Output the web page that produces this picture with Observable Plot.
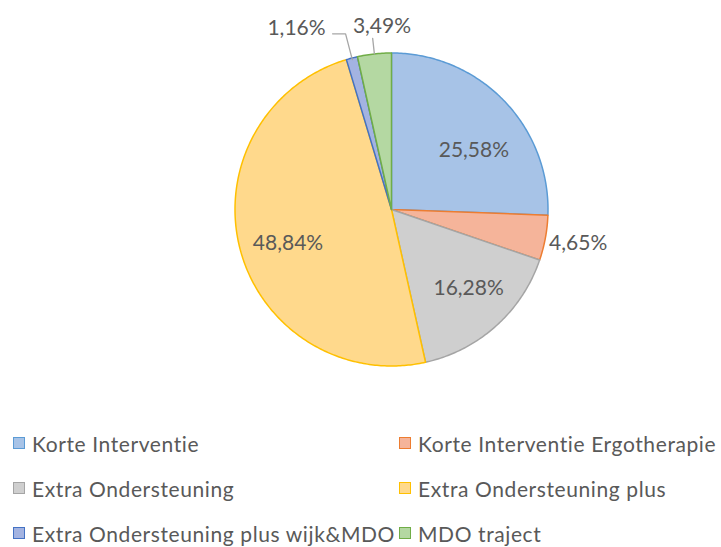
<!DOCTYPE html>
<html>
<head>
<meta charset="utf-8">
<script src="https://cdn.jsdelivr.net/npm/d3@7"></script>
<script src="https://cdn.jsdelivr.net/npm/@observablehq/plot@0.6"></script>
<style>
  body { margin: 0; background: #fff; font-family: Lato, "Open Sans", sans-serif; }
  #wrap { position: relative; width: 721px; height: 547px; }
  #legend { position: absolute; left: 13px; top: 429px; display: grid;
    grid-template-columns: 386px auto; grid-template-rows: 45px 45px 28px;
    font-size: 21px; letter-spacing: 0.6px; color: #595959; }
  .item { display: flex; align-items: center; height: 28px; white-space: nowrap; }
  .sw { width: 10px; height: 10px; margin-right: 7px; border: 1.5px solid; }
</style>
</head>
<body>
<div id="wrap"><div id="chart"></div><div id="legend"></div></div>
<script>
const categories = ["Korte Interventie", "Korte Interventie Ergotherapie", "Extra Ondersteuning",
  "Extra Ondersteuning plus", "Extra Ondersteuning plus wijk&MDO", "MDO traject"];
const counts = [22, 4, 14, 42, 1, 3];
const labels = ["25,58%", "4,65%", "16,28%", "48,84%", "1,16%", "3,49%"];
const labelMode = ["in", "out", "in", "in", "leaderLeft", "leaderUp"];
const fills = ["#A7C3E7", "#F5B49A", "#CFCFCF", "#FFD98C", "#A3B3E1", "#B4D8A2"];
const strokes = ["#5B9BD5", "#ED7D31", "#A5A5A5", "#FFC000", "#4472C4", "#70AD47"];
// small pixel nudges for label text (dx, dy)
const labelNudge = [[3.5, 17], [3.5, 0], [4, -3], [2.5, 6], [-20, -5.5], [11, 3]];

const arcs = d3.pie().sort(null).value(d => d)(counts);
const pt = (a, r) => ({x: r * Math.sin(a), y: r * Math.cos(a)});

const slices = arcs.map((a) => {
  const pts = [pt(0, 0)];
  const n = Math.max(4, Math.ceil((a.endAngle - a.startAngle) * 80));
  for (let k = 0; k <= n; k++) pts.push(pt(a.startAngle + (a.endAngle - a.startAngle) * k / n, 1));
  pts.push(pt(0, 0));
  return pts;
});

const labelRows = arcs.map((a, i) => {
  const m = (a.startAngle + a.endAngle) / 2;
  const mode = labelMode[i];
  let p, anchor = "middle";
  if (mode === "in") p = pt(m, 0.7);
  else if (mode === "out") p = pt(m, 1.19);
  else if (mode === "leaderLeft") { p = pt(m, 1.16); anchor = "end"; }
  else p = pt(m, 1.2);
  return {...p, text: labels[i], anchor, dx: labelNudge[i][0], dy: labelNudge[i][1]};
});

const leaders = [];
arcs.forEach((a, i) => {
  const m = (a.startAngle + a.endAngle) / 2;
  if (labelMode[i] === "leaderLeft") {
    const e = pt(m, 1.16);
    leaders.push([pt(m, 0.99), e, {x: e.x - 0.083, y: e.y}]);
  } else if (labelMode[i] === "leaderUp") {
    leaders.push([pt(m, 1.0), pt(m, 1.1)]);
  }
});

const R = 156.5, cx = 391, cy = 209;
const marks = [];
slices.forEach((s, i) => marks.push(Plot.line(s, {x: "x", y: "y", fill: fills[i], stroke: strokes[i], strokeWidth: 1.5, strokeLinejoin: "round"})));
leaders.forEach(l => marks.push(Plot.line(l, {x: "x", y: "y", stroke: "#A6A6A6", strokeWidth: 1.3})));
labelRows.forEach(r => marks.push(Plot.text([r], {x: "x", y: "y", text: "text", textAnchor: r.anchor, dx: r.dx, dy: r.dy, fill: "#595959", fontSize: 21})));

const chart = Plot.plot({
  width: 721, height: 410,
  margin: 0,
  x: {domain: [-1, 1], range: [cx - R, cx + R], axis: null},
  y: {domain: [-1, 1], range: [cy + R, cy - R], axis: null},
  style: {fontFamily: "Lato, 'Open Sans', sans-serif", background: "#fff", overflow: "visible"},
  marks
});
document.getElementById("chart").appendChild(chart);

const legend = document.getElementById("legend");
categories.forEach((c, i) => {
  const d = document.createElement("div");
  d.className = "item";
  d.innerHTML = `<span class="sw" style="background:${fills[i]};border-color:${strokes[i]}"></span><span>${c.replace("&", "&amp;")}</span>`;
  legend.appendChild(d);
});
</script>
</body>
</html>
